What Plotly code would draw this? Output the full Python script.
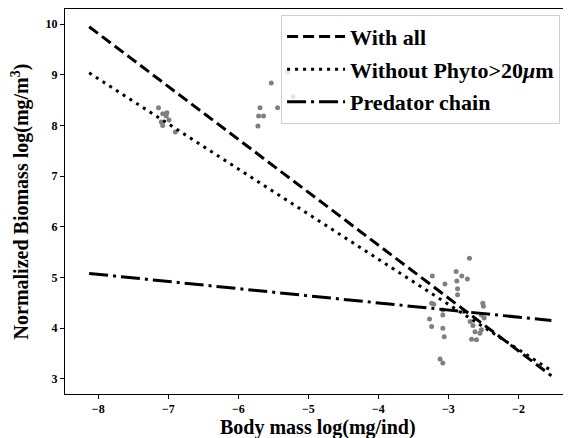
import plotly.graph_objects as go

# Scatter observations (body mass log, normalized biomass log)
obs_x = [-7.14, -7.08, -7.03, -6.99, -7.08, -6.90, -7.10, -7.02,
         -5.53, -5.69, -5.71, -5.64, -5.72, -5.44, -5.30, -5.22,
         -2.70, -3.23, -3.05, -2.89, -2.81, -2.73, -2.88, -2.87, -2.87,
         -3.24, -3.21, -3.08, -3.08, -3.27, -3.24, -3.08, -3.06,
         -2.51, -2.50, -2.53, -2.49, -2.69, -2.65, -2.62, -2.53, -2.55,
         -2.67, -2.60, -3.12, -3.08, -2.79]
obs_y = [8.35, 8.23, 8.19, 8.11, 8.00, 7.87, 8.07, 8.25,
         8.84, 8.35, 8.19, 8.19, 7.99, 8.35, 9.05, 8.57,
         5.38, 5.03, 4.87, 5.12, 5.03, 4.97, 4.93, 4.78, 4.66,
         4.49, 4.47, 4.36, 4.26, 4.18, 4.03, 4.00, 3.83,
         4.49, 4.43, 4.26, 4.20, 4.13, 4.05, 3.93, 3.97, 3.90,
         3.78, 3.77, 3.39, 3.31, 4.33]

# Fitted lines (end points)
fit_x = [-8.13, -1.53]
with_all_y = [9.95, 3.06]
without_phyto_y = [9.04, 3.16]
predator_y = [5.08, 4.15]

x_ticks = [-8, -7, -6, -5, -4, -3, -2]
y_ticks = [3, 4, 5, 6, 7, 8, 9, 10]

FONT = "Liberation Serif"

fig = go.Figure()
fig.add_trace(go.Scatter(x=obs_x, y=obs_y, mode="markers", showlegend=False,
                         marker=dict(color="#808080", size=5, line=dict(width=0))))
fig.add_trace(go.Scatter(x=fit_x, y=with_all_y, mode="lines", name="With all",
                         legendgroup="a",
                         line=dict(color="black", width=3, dash="11px,5px")))
fig.add_trace(go.Scatter(x=fit_x, y=without_phyto_y, mode="lines",
                         name="Without Phyto>20<i>μ</i>m", legendgroup="b",
                         line=dict(color="black", width=3, dash="3px,5px")))
fig.add_trace(go.Scatter(x=fit_x, y=predator_y, mode="lines", name="Predator chain",
                         legendgroup="c",
                         line=dict(color="black", width=3, dash="19px,5px,3px,5px")))

axis_common = dict(showline=True, linecolor="black", linewidth=1, mirror=True,
                   ticks="outside", ticklen=4, tickcolor="black", showgrid=False,
                   zeroline=False,
                   tickfont=dict(family=FONT, size=12, color="black", weight="bold"))

# page body has an 8px default margin; figure sized to fill the rest of the window
fig.update_layout(
    width=563, height=430,
    margin=dict(l=57, r=0, t=1, b=44),
    paper_bgcolor="white", plot_bgcolor="white",
    xaxis=dict(range=[-8.475, -1.25], tickvals=x_ticks, automargin=False,
               **axis_common),
    yaxis=dict(range=[2.70, 10.30], tickvals=y_ticks, automargin=False,
               title=dict(text="<b>Normalized Biomass log(mg/m<sup>3</sup>)</b>", standoff=12,
                          font=dict(family=FONT, size=20, color="black")),
               **axis_common),
    legend=dict(x=0.427, y=0.985, xanchor="left", yanchor="top",
                bgcolor="rgba(255,255,255,0.8)", bordercolor="#d0d0d0", borderwidth=1,
                traceorder="grouped", tracegroupgap=1, itemwidth=58,
                font=dict(family=FONT, size=22, color="black", weight="bold")),
    annotations=[dict(text="<b>Body mass log(mg/ind)</b>", xref="paper", yref="paper",
                      x=0.5, y=-0.087, xanchor="center", yanchor="middle",
                      showarrow=False,
                      font=dict(family=FONT, size=20, color="black"))],
)

fig.write_html("out.html")
